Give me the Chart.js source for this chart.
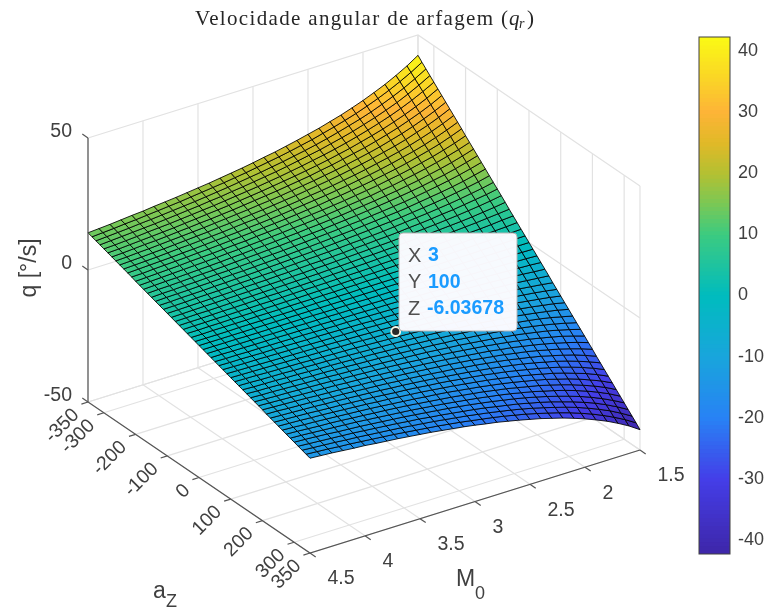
<!DOCTYPE html>
<html>
<head>
<meta charset="utf-8">
<title>Velocidade angular de arfagem</title>
<script src="https://cdn.jsdelivr.net/npm/chart.js@4"></script>
<style>
  html, body { margin: 0; padding: 0; background: #fff; }
  #surface, #bar { position: absolute; top: 0; }
  #surface { left: 0; }
  #bar { left: 690px; }
</style>
</head>
<body>
<canvas id="surface" width="765" height="612"></canvas>
<canvas id="bar" width="75" height="612"></canvas>
<script>
// Axis ticks
const m0Ticks = [1.5, 2, 2.5, 3, 3.5, 4, 4.5];
const azTicks = [-350, -300, -200, -100, 0, 100, 200, 300, 350];
const qTicks = [-50, 0, 50];
const barTicks = [-40, -30, -20, -10, 0, 10, 20, 30, 40];
const barRange = [-42.26, 42.26];

// Datatip
const tipPoint = [3, 100, -6.03678];

// Mesh
const m0Vals = [1.5,1.6,1.7,1.8,1.9,2,2.1,2.2,2.3,2.4,2.5,2.6,2.7,2.8,2.9,3,3.1,3.2,3.3,3.4,3.5,3.6,3.7,3.8,3.9,4,4.1,4.2,4.3,4.4,4.5];
const azVals = [-350,-337.5,-325,-312.5,-300,-287.5,-275,-262.5,-250,-237.5,-225,-212.5,-200,-187.5,-175,-162.5,-150,-137.5,-125,-112.5,-100,-87.5,-75,-62.5,-50,-37.5,-25,-12.5,0,12.5,25,37.5,50,62.5,75,87.5,100,112.5,125,137.5,150,162.5,175,187.5,200,212.5,225,237.5,250,262.5,275,287.5,300,312.5,325,337.5,350];
// q per row of azVals, column of m0Vals
const qVals = [
[42.3,39.6,37.3,35.2,33.4,31.7,30.2,28.8,27.6,26.4,25.4,24.4,23.5,22.6,21.9,21.1,20.4,19.8,19.2,18.6,18.1,17.6,17.1,16.7,16.3,15.8,15.5,15.1,14.7,14.4,14.1],
[40.7,38.2,36.0,34.0,32.2,30.6,29.1,27.8,26.6,25.5,24.4,23.5,22.6,21.8,21.1,20.4,19.7,19.1,18.5,18.0,17.5,17.0,16.5,16.1,15.7,15.3,14.9,14.6,14.2,13.9,13.6],
[39.2,36.8,34.6,32.7,31.0,29.4,28.0,26.8,25.6,24.5,23.5,22.6,21.8,21.0,20.3,19.6,19.0,18.4,17.8,17.3,16.8,16.3,15.9,15.5,15.1,14.7,14.4,14.0,13.7,13.4,13.1],
[37.7,35.4,33.3,31.4,29.8,28.3,27.0,25.7,24.6,23.6,22.6,21.8,21.0,20.2,19.5,18.9,18.3,17.7,17.2,16.6,16.2,15.7,15.3,14.9,14.5,14.1,13.8,13.5,13.2,12.9,12.6],
[36.2,34.0,32.0,30.2,28.6,27.2,25.9,24.7,23.6,22.6,21.7,20.9,20.1,19.4,18.7,18.1,17.5,17.0,16.5,16.0,15.5,15.1,14.7,14.3,13.9,13.6,13.3,12.9,12.6,12.3,12.1],
[34.7,32.5,30.6,28.9,27.4,26.0,24.8,23.7,22.6,21.7,20.8,20.0,19.3,18.6,18.0,17.4,16.8,16.3,15.8,15.3,14.9,14.5,14.1,13.7,13.3,13.0,12.7,12.4,12.1,11.8,11.6],
[33.2,31.1,29.3,27.7,26.2,24.9,23.7,22.6,21.7,20.8,19.9,19.2,18.4,17.8,17.2,16.6,16.1,15.6,15.1,14.6,14.2,13.8,13.5,13.1,12.8,12.4,12.1,11.9,11.6,11.3,11.1],
[31.7,29.7,28.0,26.4,25.0,23.8,22.6,21.6,20.7,19.8,19.0,18.3,17.6,17.0,16.4,15.8,15.3,14.9,14.4,14.0,13.6,13.2,12.8,12.5,12.2,11.9,11.6,11.3,11.1,10.8,10.6],
[30.2,28.3,26.6,25.2,23.8,22.6,21.6,20.6,19.7,18.9,18.1,17.4,16.8,16.2,15.6,15.1,14.6,14.1,13.7,13.3,12.9,12.6,12.2,11.9,11.6,11.3,11.0,10.8,10.5,10.3,10.1],
[28.7,26.9,25.3,23.9,22.6,21.5,20.5,19.6,18.7,17.9,17.2,16.5,15.9,15.4,14.8,14.3,13.9,13.4,13.0,12.7,12.3,11.9,11.6,11.3,11.0,10.8,10.5,10.2,10.0,9.8,9.6],
[27.2,25.5,24.0,22.6,21.4,20.4,19.4,18.5,17.7,17.0,16.3,15.7,15.1,14.6,14.1,13.6,13.1,12.7,12.3,12.0,11.6,11.3,11.0,10.7,10.4,10.2,9.9,9.7,9.5,9.3,9.1],
[25.7,24.1,22.6,21.4,20.3,19.2,18.3,17.5,16.7,16.0,15.4,14.8,14.3,13.7,13.3,12.8,12.4,12.0,11.7,11.3,11.0,10.7,10.4,10.1,9.9,9.6,9.4,9.2,9.0,8.7,8.6],
[24.1,22.6,21.3,20.1,19.1,18.1,17.2,16.5,15.7,15.1,14.5,13.9,13.4,12.9,12.5,12.1,11.7,11.3,11.0,10.7,10.3,10.1,9.8,9.5,9.3,9.1,8.8,8.6,8.4,8.2,8.0],
[22.6,21.2,20.0,18.9,17.9,17.0,16.2,15.4,14.8,14.1,13.6,13.1,12.6,12.1,11.7,11.3,11.0,10.6,10.3,10.0,9.7,9.4,9.2,8.9,8.7,8.5,8.3,8.1,7.9,7.7,7.5],
[21.1,19.8,18.6,17.6,16.7,15.8,15.1,14.4,13.8,13.2,12.7,12.2,11.7,11.3,10.9,10.6,10.2,9.9,9.6,9.3,9.1,8.8,8.6,8.3,8.1,7.9,7.7,7.5,7.4,7.2,7.0],
[19.6,18.4,17.3,16.3,15.5,14.7,14.0,13.4,12.8,12.3,11.8,11.3,10.9,10.5,10.1,9.8,9.5,9.2,8.9,8.7,8.4,8.2,8.0,7.7,7.5,7.4,7.2,7.0,6.8,6.7,6.5],
[18.1,17.0,16.0,15.1,14.3,13.6,12.9,12.3,11.8,11.3,10.9,10.4,10.1,9.7,9.4,9.1,8.8,8.5,8.2,8.0,7.8,7.5,7.3,7.1,7.0,6.8,6.6,6.5,6.3,6.2,6.0],
[16.6,15.6,14.6,13.8,13.1,12.5,11.9,11.3,10.8,10.4,10.0,9.6,9.2,8.9,8.6,8.3,8.0,7.8,7.5,7.3,7.1,6.9,6.7,6.6,6.4,6.2,6.1,5.9,5.8,5.7,5.5],
[15.1,14.1,13.3,12.6,11.9,11.3,10.8,10.3,9.8,9.4,9.1,8.7,8.4,8.1,7.8,7.5,7.3,7.1,6.9,6.7,6.5,6.3,6.1,6.0,5.8,5.7,5.5,5.4,5.3,5.1,5.0],
[13.6,12.7,12.0,11.3,10.7,10.2,9.7,9.3,8.9,8.5,8.1,7.8,7.5,7.3,7.0,6.8,6.6,6.4,6.2,6.0,5.8,5.7,5.5,5.4,5.2,5.1,5.0,4.9,4.7,4.6,4.5],
[12.1,11.3,10.7,10.1,9.5,9.1,8.6,8.2,7.9,7.5,7.2,7.0,6.7,6.5,6.2,6.0,5.8,5.7,5.5,5.3,5.2,5.0,4.9,4.8,4.6,4.5,4.4,4.3,4.2,4.1,4.0],
[10.6,9.9,9.3,8.8,8.3,7.9,7.5,7.2,6.9,6.6,6.3,6.1,5.9,5.7,5.5,5.3,5.1,5.0,4.8,4.7,4.5,4.4,4.3,4.2,4.1,4.0,3.9,3.8,3.7,3.6,3.5],
[9.1,8.5,8.0,7.5,7.1,6.8,6.5,6.2,5.9,5.7,5.4,5.2,5.0,4.9,4.7,4.5,4.4,4.2,4.1,4.0,3.9,3.8,3.7,3.6,3.5,3.4,3.3,3.2,3.2,3.1,3.0],
[7.5,7.1,6.7,6.3,6.0,5.7,5.4,5.1,4.9,4.7,4.5,4.4,4.2,4.0,3.9,3.8,3.7,3.5,3.4,3.3,3.2,3.1,3.1,3.0,2.9,2.8,2.8,2.7,2.6,2.6,2.5],
[6.0,5.7,5.3,5.0,4.8,4.5,4.3,4.1,3.9,3.8,3.6,3.5,3.4,3.2,3.1,3.0,2.9,2.8,2.7,2.7,2.6,2.5,2.4,2.4,2.3,2.3,2.2,2.2,2.1,2.1,2.0],
[4.5,4.2,4.0,3.8,3.6,3.4,3.2,3.1,3.0,2.8,2.7,2.6,2.5,2.4,2.3,2.3,2.2,2.1,2.1,2.0,1.9,1.9,1.8,1.8,1.7,1.7,1.7,1.6,1.6,1.5,1.5],
[3.0,2.8,2.7,2.5,2.4,2.3,2.2,2.1,2.0,1.9,1.8,1.7,1.7,1.6,1.6,1.5,1.5,1.4,1.4,1.3,1.3,1.3,1.2,1.2,1.2,1.1,1.1,1.1,1.1,1.0,1.0],
[1.5,1.4,1.3,1.3,1.2,1.1,1.1,1.0,1.0,0.9,0.9,0.9,0.8,0.8,0.8,0.8,0.7,0.7,0.7,0.7,0.6,0.6,0.6,0.6,0.6,0.6,0.6,0.5,0.5,0.5,0.5],
[0,0,0,0,0,0,0,0,0,0,0,0,0,0,0,0,0,0,0,0,0,0,0,0,0,0,0,0,0,0,0],
[-1.5,-1.4,-1.3,-1.3,-1.2,-1.1,-1.1,-1.0,-1.0,-0.9,-0.9,-0.9,-0.8,-0.8,-0.8,-0.8,-0.7,-0.7,-0.7,-0.7,-0.6,-0.6,-0.6,-0.6,-0.6,-0.6,-0.6,-0.5,-0.5,-0.5,-0.5],
[-3.0,-2.8,-2.7,-2.5,-2.4,-2.3,-2.2,-2.1,-2.0,-1.9,-1.8,-1.7,-1.7,-1.6,-1.6,-1.5,-1.5,-1.4,-1.4,-1.3,-1.3,-1.3,-1.2,-1.2,-1.2,-1.1,-1.1,-1.1,-1.1,-1.0,-1.0],
[-4.5,-4.2,-4.0,-3.8,-3.6,-3.4,-3.2,-3.1,-3.0,-2.8,-2.7,-2.6,-2.5,-2.4,-2.3,-2.3,-2.2,-2.1,-2.1,-2.0,-1.9,-1.9,-1.8,-1.8,-1.7,-1.7,-1.7,-1.6,-1.6,-1.5,-1.5],
[-6.0,-5.7,-5.3,-5.0,-4.8,-4.5,-4.3,-4.1,-3.9,-3.8,-3.6,-3.5,-3.4,-3.2,-3.1,-3.0,-2.9,-2.8,-2.7,-2.7,-2.6,-2.5,-2.4,-2.4,-2.3,-2.3,-2.2,-2.2,-2.1,-2.1,-2.0],
[-7.5,-7.1,-6.7,-6.3,-6.0,-5.7,-5.4,-5.1,-4.9,-4.7,-4.5,-4.4,-4.2,-4.0,-3.9,-3.8,-3.7,-3.5,-3.4,-3.3,-3.2,-3.1,-3.1,-3.0,-2.9,-2.8,-2.8,-2.7,-2.6,-2.6,-2.5],
[-9.1,-8.5,-8.0,-7.5,-7.1,-6.8,-6.5,-6.2,-5.9,-5.7,-5.4,-5.2,-5.0,-4.9,-4.7,-4.5,-4.4,-4.2,-4.1,-4.0,-3.9,-3.8,-3.7,-3.6,-3.5,-3.4,-3.3,-3.2,-3.2,-3.1,-3.0],
[-10.6,-9.9,-9.3,-8.8,-8.3,-7.9,-7.5,-7.2,-6.9,-6.6,-6.3,-6.1,-5.9,-5.7,-5.5,-5.3,-5.1,-5.0,-4.8,-4.7,-4.5,-4.4,-4.3,-4.2,-4.1,-4.0,-3.9,-3.8,-3.7,-3.6,-3.5],
[-12.1,-11.3,-10.7,-10.1,-9.5,-9.1,-8.6,-8.2,-7.9,-7.5,-7.2,-7.0,-6.7,-6.5,-6.2,-6.0,-5.8,-5.7,-5.5,-5.3,-5.2,-5.0,-4.9,-4.8,-4.6,-4.5,-4.4,-4.3,-4.2,-4.1,-4.0],
[-13.6,-12.7,-12.0,-11.3,-10.7,-10.2,-9.7,-9.3,-8.9,-8.5,-8.1,-7.8,-7.5,-7.3,-7.0,-6.8,-6.6,-6.4,-6.2,-6.0,-5.8,-5.7,-5.5,-5.4,-5.2,-5.1,-5.0,-4.9,-4.7,-4.6,-4.5],
[-15.1,-14.1,-13.3,-12.6,-11.9,-11.3,-10.8,-10.3,-9.8,-9.4,-9.1,-8.7,-8.4,-8.1,-7.8,-7.5,-7.3,-7.1,-6.9,-6.7,-6.5,-6.3,-6.1,-6.0,-5.8,-5.7,-5.5,-5.4,-5.3,-5.1,-5.0],
[-16.6,-15.6,-14.6,-13.8,-13.1,-12.5,-11.9,-11.3,-10.8,-10.4,-10.0,-9.6,-9.2,-8.9,-8.6,-8.3,-8.0,-7.8,-7.5,-7.3,-7.1,-6.9,-6.7,-6.6,-6.4,-6.2,-6.1,-5.9,-5.8,-5.7,-5.5],
[-18.1,-17.0,-16.0,-15.1,-14.3,-13.6,-12.9,-12.3,-11.8,-11.3,-10.9,-10.4,-10.1,-9.7,-9.4,-9.1,-8.8,-8.5,-8.2,-8.0,-7.8,-7.5,-7.3,-7.1,-7.0,-6.8,-6.6,-6.5,-6.3,-6.2,-6.0],
[-19.6,-18.4,-17.3,-16.3,-15.5,-14.7,-14.0,-13.4,-12.8,-12.3,-11.8,-11.3,-10.9,-10.5,-10.1,-9.8,-9.5,-9.2,-8.9,-8.7,-8.4,-8.2,-8.0,-7.7,-7.5,-7.4,-7.2,-7.0,-6.8,-6.7,-6.5],
[-21.1,-19.8,-18.6,-17.6,-16.7,-15.8,-15.1,-14.4,-13.8,-13.2,-12.7,-12.2,-11.7,-11.3,-10.9,-10.6,-10.2,-9.9,-9.6,-9.3,-9.1,-8.8,-8.6,-8.3,-8.1,-7.9,-7.7,-7.5,-7.4,-7.2,-7.0],
[-22.6,-21.2,-20.0,-18.9,-17.9,-17.0,-16.2,-15.4,-14.8,-14.1,-13.6,-13.1,-12.6,-12.1,-11.7,-11.3,-11.0,-10.6,-10.3,-10.0,-9.7,-9.4,-9.2,-8.9,-8.7,-8.5,-8.3,-8.1,-7.9,-7.7,-7.5],
[-24.1,-22.6,-21.3,-20.1,-19.1,-18.1,-17.2,-16.5,-15.7,-15.1,-14.5,-13.9,-13.4,-12.9,-12.5,-12.1,-11.7,-11.3,-11.0,-10.7,-10.3,-10.1,-9.8,-9.5,-9.3,-9.1,-8.8,-8.6,-8.4,-8.2,-8.0],
[-25.7,-24.1,-22.6,-21.4,-20.3,-19.2,-18.3,-17.5,-16.7,-16.0,-15.4,-14.8,-14.3,-13.7,-13.3,-12.8,-12.4,-12.0,-11.7,-11.3,-11.0,-10.7,-10.4,-10.1,-9.9,-9.6,-9.4,-9.2,-9.0,-8.7,-8.6],
[-27.2,-25.5,-24.0,-22.6,-21.4,-20.4,-19.4,-18.5,-17.7,-17.0,-16.3,-15.7,-15.1,-14.6,-14.1,-13.6,-13.1,-12.7,-12.3,-12.0,-11.6,-11.3,-11.0,-10.7,-10.4,-10.2,-9.9,-9.7,-9.5,-9.3,-9.1],
[-28.7,-26.9,-25.3,-23.9,-22.6,-21.5,-20.5,-19.6,-18.7,-17.9,-17.2,-16.5,-15.9,-15.4,-14.8,-14.3,-13.9,-13.4,-13.0,-12.7,-12.3,-11.9,-11.6,-11.3,-11.0,-10.8,-10.5,-10.2,-10.0,-9.8,-9.6],
[-30.2,-28.3,-26.6,-25.2,-23.8,-22.6,-21.6,-20.6,-19.7,-18.9,-18.1,-17.4,-16.8,-16.2,-15.6,-15.1,-14.6,-14.1,-13.7,-13.3,-12.9,-12.6,-12.2,-11.9,-11.6,-11.3,-11.0,-10.8,-10.5,-10.3,-10.1],
[-31.7,-29.7,-28.0,-26.4,-25.0,-23.8,-22.6,-21.6,-20.7,-19.8,-19.0,-18.3,-17.6,-17.0,-16.4,-15.8,-15.3,-14.9,-14.4,-14.0,-13.6,-13.2,-12.8,-12.5,-12.2,-11.9,-11.6,-11.3,-11.1,-10.8,-10.6],
[-33.2,-31.1,-29.3,-27.7,-26.2,-24.9,-23.7,-22.6,-21.7,-20.8,-19.9,-19.2,-18.4,-17.8,-17.2,-16.6,-16.1,-15.6,-15.1,-14.6,-14.2,-13.8,-13.5,-13.1,-12.8,-12.4,-12.1,-11.9,-11.6,-11.3,-11.1],
[-34.7,-32.5,-30.6,-28.9,-27.4,-26.0,-24.8,-23.7,-22.6,-21.7,-20.8,-20.0,-19.3,-18.6,-18.0,-17.4,-16.8,-16.3,-15.8,-15.3,-14.9,-14.5,-14.1,-13.7,-13.3,-13.0,-12.7,-12.4,-12.1,-11.8,-11.6],
[-36.2,-34.0,-32.0,-30.2,-28.6,-27.2,-25.9,-24.7,-23.6,-22.6,-21.7,-20.9,-20.1,-19.4,-18.7,-18.1,-17.5,-17.0,-16.5,-16.0,-15.5,-15.1,-14.7,-14.3,-13.9,-13.6,-13.3,-12.9,-12.6,-12.3,-12.1],
[-37.7,-35.4,-33.3,-31.4,-29.8,-28.3,-27.0,-25.7,-24.6,-23.6,-22.6,-21.8,-21.0,-20.2,-19.5,-18.9,-18.3,-17.7,-17.2,-16.6,-16.2,-15.7,-15.3,-14.9,-14.5,-14.1,-13.8,-13.5,-13.2,-12.9,-12.6],
[-39.2,-36.8,-34.6,-32.7,-31.0,-29.4,-28.0,-26.8,-25.6,-24.5,-23.5,-22.6,-21.8,-21.0,-20.3,-19.6,-19.0,-18.4,-17.8,-17.3,-16.8,-16.3,-15.9,-15.5,-15.1,-14.7,-14.4,-14.0,-13.7,-13.4,-13.1],
[-40.7,-38.2,-36.0,-34.0,-32.2,-30.6,-29.1,-27.8,-26.6,-25.5,-24.4,-23.5,-22.6,-21.8,-21.1,-20.4,-19.7,-19.1,-18.5,-18.0,-17.5,-17.0,-16.5,-16.1,-15.7,-15.3,-14.9,-14.6,-14.2,-13.9,-13.6],
[-42.3,-39.6,-37.3,-35.2,-33.4,-31.7,-30.2,-28.8,-27.6,-26.4,-25.4,-24.4,-23.5,-22.6,-21.9,-21.1,-20.4,-19.8,-19.2,-18.6,-18.1,-17.6,-17.1,-16.7,-16.3,-15.8,-15.5,-15.1,-14.7,-14.4,-14.1]
];

const textColor = '#404040';
const sans = '"Liberation Sans", Arial, sans-serif';

// colormap stops: value, r, g, b
const cmap = [
  [-42.26, 62, 38, 168], [-30, 68, 62, 232], [-20, 40, 130, 245], [-10, 25, 165, 220],
  [0, 0, 188, 190], [10, 60, 203, 128], [15, 122, 200, 85], [20, 180, 192, 50],
  [25, 225, 185, 40], [30, 253, 180, 55], [35, 250, 210, 40], [42.26, 250, 250, 20]
];

function colorAt(v) {
  for (let i = 1; i < cmap.length; i++) {
    if (v <= cmap[i][0]) {
      const a = cmap[i - 1], b = cmap[i];
      const t = Math.max(0, (v - a[0]) / (b[0] - a[0]));
      return `rgb(${[1, 2, 3].map(c => Math.round(a[c] + (b[c] - a[c]) * t)).join(',')})`;
    }
  }
  return 'rgb(250,250,20)';
}

// Orthographic view: data -> chart coordinates
function project(m0, az, q) {
  const s = (az + 350) / 700, t = (4.5 - m0) / 3, h = (q + 50) / 100;
  return { x: 88 + 222 * s + 330 * t, y: 402 + 151 * s - 103 * t - 264 * h };
}

function lineSet(points, color, width, order) {
  return {
    data: points.map(p => project(p[0], p[1], p[2])),
    borderColor: color, borderWidth: width, order: order,
    pointRadius: 0, fill: false, tension: 0
  };
}

const datasets = [];

// floor and wall grids
const gridColor = '#e2e2e2';
m0Ticks.forEach(m => {
  datasets.push(lineSet([[m, -350, -50], [m, 350, -50]], gridColor, 1.2, 5));
  datasets.push(lineSet([[m, -350, -50], [m, -350, 50]], gridColor, 1.2, 5));
});
azTicks.forEach(a => {
  datasets.push(lineSet([[1.5, a, -50], [4.5, a, -50]], gridColor, 1.2, 5));
  datasets.push(lineSet([[1.5, a, -50], [1.5, a, 50]], gridColor, 1.2, 5));
});
qTicks.forEach(q => {
  datasets.push(lineSet([[4.5, -350, q], [1.5, -350, q], [1.5, 350, q]], gridColor, 1.2, 5));
});

// surface cells
for (let r = 0; r < azVals.length - 1; r++) {
  for (let c = 0; c < m0Vals.length - 1; c++) {
    const corners = [[r, c], [r + 1, c], [r + 1, c + 1], [r, c + 1], [r, c]];
    const mean = (qVals[r][c] + qVals[r + 1][c] + qVals[r + 1][c + 1] + qVals[r][c + 1]) / 4;
    const ds = lineSet(corners.map(k => [m0Vals[k[1]], azVals[k[0]], qVals[k[0]][k[1]]]), 'rgba(0,0,0,0.85)', 1, 3);
    ds.fill = 'shape';
    ds.backgroundColor = colorAt(mean);
    datasets.push(ds);
  }
}

// box axes and ticks
const axisColor = '#555555';
datasets.push(lineSet([[4.5, -350, 50], [4.5, -350, -50], [4.5, 350, -50], [1.5, 350, -50]], axisColor, 1.2, 2));
qTicks.forEach(q => datasets.push(lineSet([[4.5, -350, q], [4.5, -368, q]], axisColor, 1.2, 2)));
azTicks.forEach(a => datasets.push(lineSet([[4.5, a, -50], [4.56, a, -50]], axisColor, 1.2, 2)));
m0Ticks.forEach(m => datasets.push(lineSet([[m, 350, -50], [m, 368, -50]], axisColor, 1.2, 2)));

// datatip marker
datasets.push({
  data: [project(tipPoint[0], tipPoint[1], tipPoint[2])],
  order: 0, showLine: false, pointRadius: 4.5, pointBorderWidth: 1.8,
  pointBackgroundColor: '#2a2a2a', pointBorderColor: '#fbf8e6'
});

function drawText(ctx, txt, x, y, font, color, align, rot) {
  ctx.save();
  ctx.translate(x, y);
  if (rot) ctx.rotate(rot);
  ctx.font = font;
  ctx.fillStyle = color;
  ctx.textAlign = align || 'left';
  ctx.textBaseline = 'middle';
  ctx.fillText(txt, 0, 0);
  ctx.restore();
}

const labelPlugin = {
  id: 'labels',
  afterDraw(chart) {
    const ctx = chart.ctx;
    const xs = chart.scales.x, ys = chart.scales.y;
    const at = (m, a, q) => {
      const p = project(m, a, q);
      return { x: xs.getPixelForValue(p.x), y: ys.getPixelForValue(p.y) };
    };
    const tickFont = '19.5px ' + sans, labelFont = '23px ' + sans, subFont = '18px ' + sans;

    qTicks.forEach(q => {
      const p = at(4.5, -350, q);
      drawText(ctx, String(q), p.x - 16, p.y - 6, tickFont, textColor, 'right');
    });
    azTicks.forEach(a => {
      const p = at(4.5, a, -50);
      drawText(ctx, String(a), p.x - 12, p.y + 10, tickFont, textColor, 'right', -Math.PI / 4);
    });
    m0Ticks.forEach(m => {
      const p = at(m, 350, -50);
      drawText(ctx, String(m), p.x + 17.5, p.y + 26, tickFont, textColor, 'left');
    });

    drawText(ctx, 'q [°/s]', 30, 268, labelFont, textColor, 'center', -Math.PI / 2);
    drawText(ctx, 'M', 456, 580, labelFont, textColor, 'left');
    drawText(ctx, '0', 475, 594, subFont, textColor, 'left');
    drawText(ctx, 'a', 153, 592, labelFont, textColor, 'left');
    drawText(ctx, 'Z', 166, 602, subFont, textColor, 'left');

    // title
    const serif = '"Liberation Serif", "Times New Roman", serif';
    const head = 'Velocidade angular de arfagem';
    ctx.save();
    ctx.font = '21px ' + serif;
    const spare = 298 - ctx.measureText(head).width;
    ctx.letterSpacing = (spare / (head.length - 1)) + 'px';
    ctx.fillStyle = '#262626';
    ctx.textBaseline = 'alphabetic';
    ctx.fillText(head, 195, 25);
    ctx.letterSpacing = '0px';
    ctx.fillText('(', 501, 25);
    ctx.fillText(')', 527, 25);
    ctx.font = 'italic 21px ' + serif;
    ctx.fillText('q', 509, 25);
    ctx.font = 'italic 14px ' + serif;
    ctx.fillText('r', 519, 28);
    ctx.restore();

    // datatip box
    ctx.save();
    ctx.beginPath();
    ctx.roundRect(399, 233, 118, 98, 4);
    ctx.fillStyle = 'rgba(252,251,255,0.98)';
    ctx.fill();
    ctx.strokeStyle = '#b5b5b5';
    ctx.lineWidth = 1;
    ctx.stroke();
    ctx.restore();
    const blue = '#1a9bff', tipFont = 'bold 19.5px ' + sans, tipKey = '20px ' + sans;
    ['X', 'Y', 'Z'].forEach((k, i) => {
      const y = 256 + i * 26.5;
      drawText(ctx, k, 408, y, tipKey, '#505050', 'left');
      drawText(ctx, String(tipPoint[i]), i === 2 ? 427 : 428, y, tipFont, blue, 'left');
    });
  }
};

new Chart(document.getElementById('surface'), {
  type: 'line',
  data: { datasets: datasets },
  options: {
    responsive: false, animation: false, events: [],
    layout: { padding: 0, autoPadding: false },
    plugins: { legend: { display: false }, tooltip: { enabled: false } },
    scales: {
      x: { type: 'linear', min: 0, max: 765, display: false },
      y: { type: 'linear', min: 0, max: 612, reverse: true, display: false }
    }
  },
  plugins: [labelPlugin]
});

// Colorbar
const bands = [];
const bandCount = 128;
const bandStep = (barRange[1] - barRange[0]) / bandCount;
for (let i = 0; i < bandCount; i++) {
  const lo = barRange[0] + i * bandStep;
  const hi = Math.min(barRange[1], lo + bandStep * 1.3);
  bands.push({
    data: [[lo, hi]], backgroundColor: colorAt(lo + bandStep / 2), grouped: false,
    barPercentage: 1, categoryPercentage: 1, borderWidth: 0, order: bandCount - i
  });
}

new Chart(document.getElementById('bar'), {
  type: 'bar',
  data: { labels: [''], datasets: bands },
  options: {
    responsive: false, animation: false, events: [],
    layout: { padding: { top: 37, bottom: 58, left: 9, right: 0 } },
    plugins: { legend: { display: false }, tooltip: { enabled: false } },
    scales: {
      x: { display: false },
      y: {
        position: 'right', min: barRange[0], max: barRange[1],
        afterFit: s => { s.width = 35; },
        afterBuildTicks: s => { s.ticks = barTicks.map(v => ({ value: v })); },
        grid: { drawOnChartArea: false, tickLength: -5, tickColor: '#404040', tickWidth: 1 },
        border: { display: false },
        ticks: { padding: 13, color: textColor, font: { family: sans, size: 18 } }
      }
    }
  },
  plugins: [{
    id: 'barBox',
    afterDraw(chart) {
      const a = chart.chartArea, ctx = chart.ctx;
      ctx.save();
      ctx.strokeStyle = '#404040';
      ctx.lineWidth = 1;
      ctx.strokeRect(a.left, a.top, a.right - a.left, a.bottom - a.top);
      ctx.restore();
    }
  }]
});
</script>
</body>
</html>
